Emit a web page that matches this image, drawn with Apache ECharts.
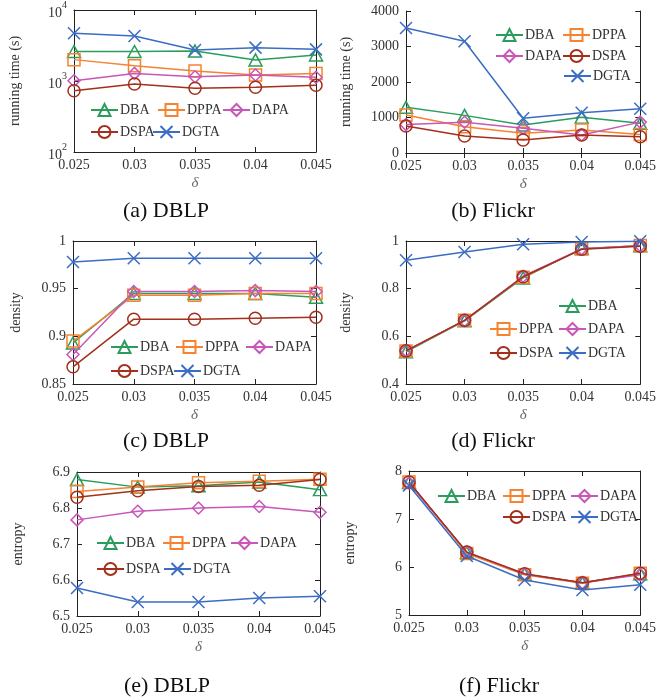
<!DOCTYPE html>
<html><head><meta charset="utf-8">
<script src="https://cdn.jsdelivr.net/npm/echarts@6/dist/echarts.min.js"></script>
<style>html,body{margin:0;padding:0;background:#fff}#c{width:659px;height:699px}</style>
</head><body><div id="c"></div>
<script>
// ---------- data ----------
const deltas = ['0.025','0.03','0.035','0.04','0.045'];
const methods = ['DBA','DPPA','DAPA','DSPA','DGTA'];

// (a) running time, DBLP (log scale)
const timeDblpDBA  = [2600, 2600, 2650, 1980, 2330];
const timeDblpDPPA = [2000, 1640, 1380, 1215, 1280];
const timeDblpDAPA = [1010, 1280, 1150, 1215, 1130];
const timeDblpDSPA = [730, 907, 790, 815, 870];
const timeDblpDGTA = [4700, 4300, 2740, 2950, 2790];

// (b) running time, Flickr
const timeFlickrDBA  = [1287, 1060, 789, 1010, 836];
const timeFlickrDPPA = [1070, 741, 555, 648, 520];
const timeFlickrDAPA = [800, 865, 696, 507, 870];
const timeFlickrDSPA = [760, 479, 366, 507, 460];
const timeFlickrDGTA = [3520, 3150, 977, 1135, 1248];

// (c) density, DBLP
const densDblpDBA  = [0.893, 0.945, 0.945, 0.945, 0.941];
const densDblpDPPA = [0.895, 0.943, 0.943, 0.945, 0.945];
const densDblpDAPA = [0.881, 0.947, 0.947, 0.948, 0.947];
const densDblpDSPA = [0.868, 0.918, 0.918, 0.919, 0.920];
const densDblpDGTA = [0.978, 0.982, 0.982, 0.982, 0.982];

// (d) density, Flickr
const densFlickrDBA  = [0.535, 0.665, 0.845, 0.968, 0.980];
const densFlickrDPPA = [0.538, 0.667, 0.848, 0.966, 0.981];
const densFlickrDAPA = [0.540, 0.666, 0.852, 0.967, 0.980];
const densFlickrDSPA = [0.539, 0.667, 0.850, 0.965, 0.978];
const densFlickrDGTA = [0.919, 0.954, 0.986, 0.996, 0.999];

// (e) entropy, DBLP
const entDblpDBA  = [6.879, 6.858, 6.862, 6.872, 6.851];
const entDblpDPPA = [6.846, 6.858, 6.870, 6.874, 6.880];
const entDblpDAPA = [6.767, 6.791, 6.800, 6.804, 6.788];
const entDblpDSPA = [6.830, 6.848, 6.860, 6.863, 6.879];
const entDblpDGTA = [6.578, 6.539, 6.539, 6.550, 6.555];

// (f) entropy, Flickr
const entFlickrDBA  = [7.76, 6.30, 5.85, 5.67, 5.86];
const entFlickrDPPA = [7.77, 6.28, 5.84, 5.66, 5.87];
const entFlickrDAPA = [7.75, 6.31, 5.85, 5.67, 5.84];
const entFlickrDSPA = [7.77, 6.31, 5.86, 5.67, 5.87];
const entFlickrDGTA = [7.70, 6.23, 5.73, 5.52, 5.63];

const captions = ['(a) DBLP', '(b) Flickr', '(c) DBLP', '(d) Flickr', '(e) DBLP', '(f) Flickr'];
const yNames = ['running time (s)', 'running time (s)', 'density', 'density', 'entropy', 'entropy'];

// ---------- styling / layout ----------
const FONT = '"Liberation Serif", "Times New Roman", serif';
const colors = {DBA:'#2a9d5c', DPPA:'#f5832f', DAPA:'#c857b8', DSPA:'#a3301c', DGTA:'#3b6dc3'};
const symbols = {DBA:'triangle', DPPA:'rect', DAPA:'diamond', DSPA:'circle', DGTA:'path://M0,0L10,10M0,10L10,0'};
const symSizes = {DBA:[13,12], DPPA:12, DAPA:[12,12], DSPA:12, DGTA:12};

const panels = [
  {grid:{left:74, top:10, width:242, height:142}, y:{type:'log', logBase:10, min:100, max:10000},
   data:[timeDblpDBA,timeDblpDPPA,timeDblpDAPA,timeDblpDSPA,timeDblpDGTA], nameGap:52,
   legend:{DBA:[90,111], DPPA:[157,111], DAPA:[222,111], DSPA:[90,133], DGTA:[152,133]}, cap:[166,211]},
  {grid:{left:406, top:11, width:241, height:142}, y:{type:'value', min:0, max:4000, interval:1000},
   data:[timeFlickrDBA,timeFlickrDPPA,timeFlickrDAPA,timeFlickrDSPA,timeFlickrDGTA], nameGap:53,
   legend:{DBA:[495,36], DPPA:[562,36], DAPA:[495,57], DSPA:[562,57], DGTA:[563,77]}, cap:[493,211]},
  {grid:{left:73, top:241, width:243, height:143}, y:{type:'value', min:0.85, max:1, interval:0.05},
   data:[densDblpDBA,densDblpDPPA,densDblpDAPA,densDblpDSPA,densDblpDGTA], nameGap:50,
   legend:{DBA:[110,348], DPPA:[175,348], DAPA:[245,348], DSPA:[110,372], DGTA:[173,372]}, cap:[166,441]},
  {grid:{left:406, top:241, width:241, height:143}, y:{type:'value', min:0.4, max:1, interval:0.2},
   data:[densFlickrDBA,densFlickrDPPA,densFlickrDAPA,densFlickrDSPA,densFlickrDGTA], nameGap:53,
   legend:{DBA:[558,307], DPPA:[489,330], DAPA:[558,330], DSPA:[489,354], DGTA:[558,354]}, cap:[493,441]},
  {grid:{left:77, top:472, width:243, height:144}, y:{type:'value', min:6.5, max:6.9, interval:0.1},
   data:[entDblpDBA,entDblpDPPA,entDblpDAPA,entDblpDSPA,entDblpDGTA], nameGap:52,
   legend:{DBA:[96,544], DPPA:[162,544], DAPA:[230,544], DSPA:[96,570], DGTA:[163,570]}, cap:[167,686]},
  {grid:{left:409, top:471, width:243, height:144}, y:{type:'value', min:5, max:8, interval:1},
   data:[entFlickrDBA,entFlickrDPPA,entFlickrDAPA,entFlickrDSPA,entFlickrDGTA], nameGap:52,
   legend:{DBA:[437,497], DPPA:[502,497], DAPA:[570,497], DSPA:[502,518], DGTA:[570,518]}, cap:[499,686]}
];

const axisLine = {show:true, lineStyle:{color:'#222', width:1}};
const tick = {show:true, inside:true, length:5, lineStyle:{color:'#222'}};
const labelStyle = {fontFamily:FONT, fontSize:14, color:'#333'};

const grids = [], xAxes = [], yAxes = [], series = [], legends = [], graphics = [];

panels.forEach((p, i) => {
  grids.push(Object.assign({containLabel:false}, p.grid));
  xAxes.push({type:'category', gridIndex:i, data:deltas, boundaryGap:false, position:'bottom',
    axisLine, axisTick:tick, axisLabel:Object.assign({margin:6}, labelStyle),
    name:'δ', nameLocation:'middle', nameGap:24,
    nameTextStyle:{fontFamily:FONT, fontSize:15, fontStyle:'italic', color:'#666'}, splitLine:{show:false}});
  xAxes.push({type:'category', gridIndex:i, data:deltas, boundaryGap:false, position:'top',
    axisLine, axisTick:tick, axisLabel:{show:false}, splitLine:{show:false}});
  const ybase = Object.assign({gridIndex:i, axisLine, axisTick:tick, splitLine:{show:false}}, p.y);
  const yl = Object.assign({}, ybase, {position:'left',
    axisLabel: Object.assign({margin:7, showMinLabel:true, showMaxLabel:true,
      formatter: v => String(+v.toFixed(4))}, labelStyle),
    name: yNames[i], nameLocation:'middle', nameGap:p.nameGap, nameRotate:90,
    nameTextStyle:{fontFamily:FONT, fontSize:14, color:'#333'}});
  if (p.y.type === 'log') {
    yl.axisLabel = {margin:7, fontFamily:FONT, color:'#333',
      formatter: v => '{b|10}{s|' + Math.round(Math.log10(v)) + '}',
      rich:{b:{fontFamily:FONT, fontSize:14, color:'#333', lineHeight:20, verticalAlign:'bottom'},
            s:{fontFamily:FONT, fontSize:10, color:'#333', lineHeight:20, verticalAlign:'top'}}};
  }
  yAxes.push(yl);
  yAxes.push(Object.assign({}, ybase, {position:'right', axisLabel:{show:false}}));

  methods.forEach((m, k) => {
    series.push({type:'line', name:m, xAxisIndex:2*i, yAxisIndex:2*i, data:p.data[k],
      symbol:symbols[m], symbolSize:symSizes[m], showSymbol:true, color:colors[m],
      lineStyle:{color:colors[m], width:1.5},
      itemStyle:{color:'rgba(255,255,255,0)', borderColor:colors[m], borderWidth:1.5},
      emphasis:{disabled:true}, animation:false, z:2+k});
    const pos = p.legend[m];
    legends.push({data:[m], left:pos[0], top:pos[1]-8, padding:0, itemGap:0,
      itemWidth:27, itemHeight:15, selectedMode:false,
      textStyle:{fontFamily:FONT, fontSize:14, color:'#333', padding:[0,0,0,-3]}});
  });

  graphics.push({type:'text', x:p.cap[0], y:p.cap[1],
    style:{text:captions[i], fill:'#111', font:'22px ' + FONT, textAlign:'center', textVerticalAlign:'middle'}});
});

const chart = echarts.init(document.getElementById('c'), null, {renderer:'canvas'});
chart.setOption({
  animation:false,
  backgroundColor:'#fff',
  grid:grids, xAxis:xAxes, yAxis:yAxes, series, legend:legends,
  graphic:graphics
});
</script></body></html>
